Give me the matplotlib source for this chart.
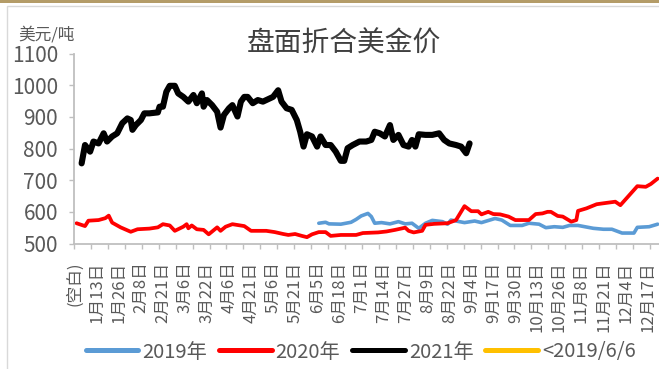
import matplotlib
matplotlib.use('Agg')
import matplotlib.pyplot as plt
from matplotlib.lines import Line2D
from matplotlib.patches import Rectangle
from matplotlib.ticker import FixedLocator

plt.rcParams['font.family'] = ['Liberation Sans Narrow', 'Noto Sans CJK SC', 'DejaVu Sans']

# ── data: category index on the date axis -> USD/t ─────────────────────────
date_labels = ['(空白)', '1月13日', '1月26日', '2月8日', '2月21日', '3月6日', '3月22日',
               '4月6日', '4月21日', '5月6日', '5月21日', '6月5日', '6月18日', '7月1日',
               '7月14日', '7月27日', '8月9日', '8月22日', '9月4日', '9月17日', '9月30日',
               '10月13日', '10月26日', '11月8日', '11月21日', '12月4日', '12月17日']
label_step = 13   # one shown date per 13 categories
tick_step = 10    # tick marks every 10 categories
n_cat = 345

idx_2019 = [144, 148, 150, 157, 163, 166, 169, 173, 175, 177, 181, 186, 191, 195, 199,
            203, 207, 211, 217, 220, 222, 230, 236, 240, 248, 252, 257, 264, 268, 274,
            278, 283, 288, 292, 297, 306, 312, 317, 323, 330, 332, 339, 344]
val_2019 = [564, 567, 562, 561, 567, 576, 587, 595, 585, 564, 566, 562, 569, 562, 564,
            548, 564, 573, 569, 561, 574, 566, 571, 566, 579, 574, 557, 557, 564, 561,
            550, 553, 551, 557, 557, 548, 545, 545, 533, 533, 551, 553, 561]

idx_2020 = [1, 6, 8, 14, 18, 20, 22, 27, 33, 37, 44, 49, 52, 56, 59, 64, 66, 67, 69, 72,
            76, 79, 84, 86, 89, 93, 100, 104, 113, 118, 123, 126, 130, 134, 137, 140, 144,
            148, 151, 157, 166, 170, 179, 184, 189, 195, 197, 200, 205, 207, 212, 220, 225,
            230, 234, 238, 240, 244, 247, 251, 256, 260, 268, 272, 276, 279, 281, 285, 288,
            293, 296, 297, 302, 308, 312, 319, 322, 326, 332, 337, 340, 344]
val_2020 = [564, 555, 572, 574, 580, 588, 566, 551, 537, 545, 547, 551, 561, 557, 540,
            553, 561, 548, 557, 545, 543, 529, 551, 540, 553, 561, 555, 540, 540, 536,
            530, 527, 530, 524, 520, 529, 536, 536, 524, 527, 527, 533, 535, 538, 543,
            550, 540, 535, 540, 559, 562, 564, 574, 618, 602, 602, 592, 600, 593, 592,
            585, 574, 574, 593, 595, 600, 600, 587, 585, 569, 574, 603, 611, 624, 627,
            632, 621, 645, 681, 679, 688, 705]

idx_2021 = [4, 6, 9, 11, 14, 17, 19, 22, 25, 28, 31, 33, 34, 36, 39, 41, 44, 49, 50, 52,
            54, 56, 59, 61, 64, 67, 70, 72, 75, 76, 78, 81, 84, 86, 88, 91, 93, 96, 98,
            100, 102, 105, 108, 111, 115, 117, 120, 122, 125, 128, 131, 133, 135, 137,
            140, 143, 145, 148, 151, 154, 157, 159, 161, 164, 168, 172, 175, 177, 180,
            183, 186, 188, 191, 194, 197, 199, 201, 203, 207, 211, 215, 218, 221, 225,
            228, 231, 233]
val_2021 = [753, 811, 790, 822, 816, 848, 822, 838, 848, 880, 895, 890, 859, 874, 890,
            911, 911, 914, 932, 932, 979, 998, 998, 974, 963, 948, 969, 943, 974, 932,
            953, 937, 916, 866, 906, 927, 937, 901, 948, 963, 963, 943, 953, 948, 958,
            963, 984, 948, 927, 922, 890, 853, 806, 845, 838, 806, 838, 811, 811, 790,
            761, 761, 801, 811, 822, 822, 827, 853, 848, 838, 874, 827, 843, 811, 806,
            827, 806, 845, 843, 843, 848, 827, 816, 811, 806, 785, 816]

series_names = ['2019年', '2020年', '2021年', '<2019/6/6']
series_colors = ['#5B9BD5', '#FF0000', '#000000', '#FFC000']

W, H = 659, 369
AXIS = '#BFBFBF'
TEXT = '#595959'

fig = plt.figure(figsize=(W / 100, H / 100), dpi=100)
fig.patch.set_facecolor('white')

# gold strip on top and the light chart-area frame
fig.patches.append(Rectangle((0, 1 - 3 / H), 1, 3 / H, transform=fig.transFigure,
                             facecolor='#B49C68', edgecolor='none'))
fig.patches.append(Rectangle((7 / W, -0.1), 1.2, 1.1 - 6 / H, transform=fig.transFigure,
                             fill=False, edgecolor='#D9D9D9', lw=1))

ax = fig.add_axes([74 / W, 1 - 243.5 / H, (W - 74) / W, 190 / H])
ax.set_facecolor('none')

line_kw = dict(solid_joinstyle='round', solid_capstyle='round')
ax.plot(idx_2019, val_2019, color=series_colors[0], lw=2.6, **line_kw)
ax.plot(idx_2020, val_2020, color=series_colors[1], lw=2.7, **line_kw)
ax.plot(idx_2021, val_2021, color=series_colors[2], lw=4.4, **line_kw)

ax.set_xlim(-0.5, n_cat - 0.2)
ax.set_ylim(500, 1100)
ax.set_yticks(range(500, 1101, 100))

for side in ('top', 'right'):
    ax.spines[side].set_visible(False)
for side in ('left', 'bottom'):
    ax.spines[side].set_color(AXIS)
    ax.spines[side].set_linewidth(1.3)

ax.tick_params(axis='y', direction='out', length=3.6, width=1, color=AXIS,
               pad=8, labelsize=15, labelcolor=TEXT)

ax.set_xticks([k * label_step for k in range(len(date_labels))])
ax.set_xticklabels(date_labels, rotation=90, fontsize=12, color=TEXT)
ax.tick_params(axis='x', which='major', length=0, pad=13)
ax.xaxis.set_minor_locator(FixedLocator([-0.5 + tick_step * j for j in range(35)]))
ax.tick_params(axis='x', which='minor', direction='out', length=3.6, width=1, color=AXIS)

fig.text(344 / W, 1 - 44 / H, '盘面折合美金价', ha='center', va='center', fontsize=20,
         color='#404040', family=['Noto Sans CJK SC'])
fig.text(18 / W, 1 - 35 / H, '美元/吨', ha='left', va='center', fontsize=12,
         color=TEXT, family=['Noto Sans CJK SC'])

handles = [Line2D([], [], color=c, lw=3.6, solid_capstyle='round') for c in series_colors]
leg = fig.legend(handles, series_names, loc='center left',
                 bbox_to_anchor=(86 / W, 1 - 352 / H), ncol=4, frameon=False,
                 fontsize=14.5, handlelength=2.6, handletextpad=0.2, columnspacing=0.6,
                 borderpad=0, borderaxespad=0)
for t in leg.get_texts():
    t.set_color(TEXT)

fig.savefig('out.png', dpi=100)
